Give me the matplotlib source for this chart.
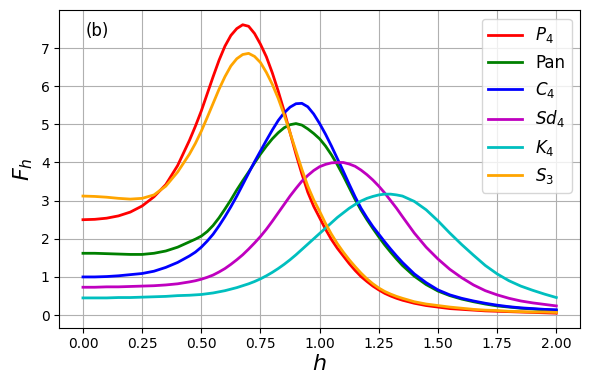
import numpy as np
import matplotlib
matplotlib.use("Agg")
import matplotlib.pyplot as plt

# valores: h cada 0.05, mas fino (0.025) en la zona de picos
h = np.round(np.concatenate([np.arange(0, 9) * 0.05,
                             0.45 + np.arange(0, 36) * 0.025,
                             1.35 + np.arange(0, 14) * 0.05]), 3)

P4 = [2.50, 2.51, 2.54, 2.60, 2.70, 2.86, 3.10, 3.42, 3.92,
      4.58, 4.95, 5.35, 5.80, 6.25, 6.68, 7.05, 7.33, 7.51, 7.61,
      7.57, 7.38, 7.10, 6.77, 6.35, 5.87, 5.35, 4.78, 4.22, 3.70,
      3.22, 2.85, 2.55, 2.25, 1.98, 1.75, 1.55, 1.35, 1.17, 1.01,
      0.88, 0.76, 0.66, 0.57, 0.50, 0.44,
      0.39, 0.31, 0.25, 0.21, 0.17, 0.15, 0.13, 0.11, 0.10, 0.09, 0.08, 0.07, 0.06, 0.05]
Pan = [1.62, 1.62, 1.61, 1.60, 1.59, 1.59, 1.62, 1.68, 1.78,
       1.92, 1.99, 2.07, 2.19, 2.35, 2.55, 2.78, 3.02, 3.28, 3.52,
       3.75, 3.99, 4.22, 4.43, 4.62, 4.78, 4.91, 4.99, 5.02, 4.98,
       4.88, 4.76, 4.62, 4.43, 4.20, 3.94, 3.65, 3.34, 3.03, 2.75,
       2.50, 2.27, 2.05, 1.84, 1.65, 1.47,
       1.30, 1.02, 0.80, 0.63, 0.51, 0.42, 0.35, 0.29, 0.24, 0.21, 0.18, 0.16, 0.14, 0.12]
C4 = [1.00, 1.00, 1.01, 1.03, 1.06, 1.09, 1.15, 1.25, 1.38,
      1.55, 1.65, 1.78, 1.94, 2.12, 2.34, 2.58, 2.84, 3.12, 3.42,
      3.72, 4.02, 4.30, 4.58, 4.85, 5.10, 5.30, 5.45, 5.54, 5.55,
      5.46, 5.27, 5.02, 4.74, 4.43, 4.10, 3.77, 3.43, 3.10, 2.80,
      2.55, 2.32, 2.12, 1.92, 1.73, 1.55,
      1.38, 1.08, 0.85, 0.66, 0.53, 0.44, 0.37, 0.31, 0.26, 0.22, 0.19, 0.17, 0.15, 0.14]
Sd4 = [0.73, 0.73, 0.74, 0.74, 0.75, 0.76, 0.77, 0.79, 0.82,
       0.87, 0.90, 0.94, 0.99, 1.05, 1.13, 1.22, 1.33, 1.45, 1.58,
       1.73, 1.89, 2.06, 2.25, 2.46, 2.68, 2.90, 3.12, 3.32, 3.51,
       3.66, 3.79, 3.89, 3.95, 3.99, 4.00, 4.00, 3.96, 3.90, 3.80,
       3.68, 3.54, 3.38, 3.20, 3.00, 2.80,
       2.58, 2.15, 1.78, 1.47, 1.20, 0.98, 0.79, 0.64, 0.53, 0.44, 0.37, 0.32, 0.28, 0.24]
K4 = [0.45, 0.45, 0.45, 0.46, 0.46, 0.47, 0.48, 0.49, 0.51,
      0.52, 0.53, 0.54, 0.56, 0.58, 0.61, 0.64, 0.68, 0.72, 0.77,
      0.82, 0.88, 0.95, 1.03, 1.12, 1.22, 1.33, 1.45, 1.58, 1.72,
      1.86, 2.00, 2.14, 2.28, 2.42, 2.56, 2.68, 2.80, 2.90, 2.99,
      3.06, 3.11, 3.15, 3.17, 3.17, 3.15,
      3.12, 2.98, 2.76, 2.47, 2.15, 1.85, 1.57, 1.30, 1.08, 0.90, 0.76, 0.65, 0.55, 0.46]
S3 = [3.12, 3.11, 3.09, 3.06, 3.04, 3.06, 3.15, 3.38, 3.75,
      4.22, 4.50, 4.82, 5.18, 5.55, 5.92, 6.25, 6.53, 6.72, 6.83,
      6.86, 6.78, 6.62, 6.36, 6.05, 5.68, 5.25, 4.78, 4.30, 3.82,
      3.38, 3.02, 2.72, 2.40, 2.12, 1.87, 1.65, 1.45, 1.27, 1.10,
      0.95, 0.82, 0.71, 0.62, 0.55, 0.49,
      0.44, 0.35, 0.29, 0.25, 0.21, 0.18, 0.15, 0.13, 0.12, 0.10, 0.09, 0.08, 0.08, 0.07]

series = [(P4, "r", "$P_4$"), (Pan, "g", "Pan"), (C4, "b", "$C_4$"),
          (Sd4, "m", "$Sd_4$"), (K4, "c", "$K_4$"), (S3, "orange", "$S_3$")]

fig = plt.figure(figsize=(5.9, 3.9), dpi=100)
ax = fig.add_axes([0.1005, 0.16, 0.8825, 0.8135])
for y, col, lab in series:
    ax.plot(h, y, color=col, lw=2, label=lab)

ax.set_xlabel("$h$", fontsize=16, labelpad=2)
ax.set_ylabel("$F_h$", fontsize=16)
ax.text(0.05, 0.935, "(b)", transform=ax.transAxes, fontsize=12, va="center")
ax.grid(True)
ax.legend(loc="upper right", fontsize=12)

fig.savefig("out.png", dpi=100)
